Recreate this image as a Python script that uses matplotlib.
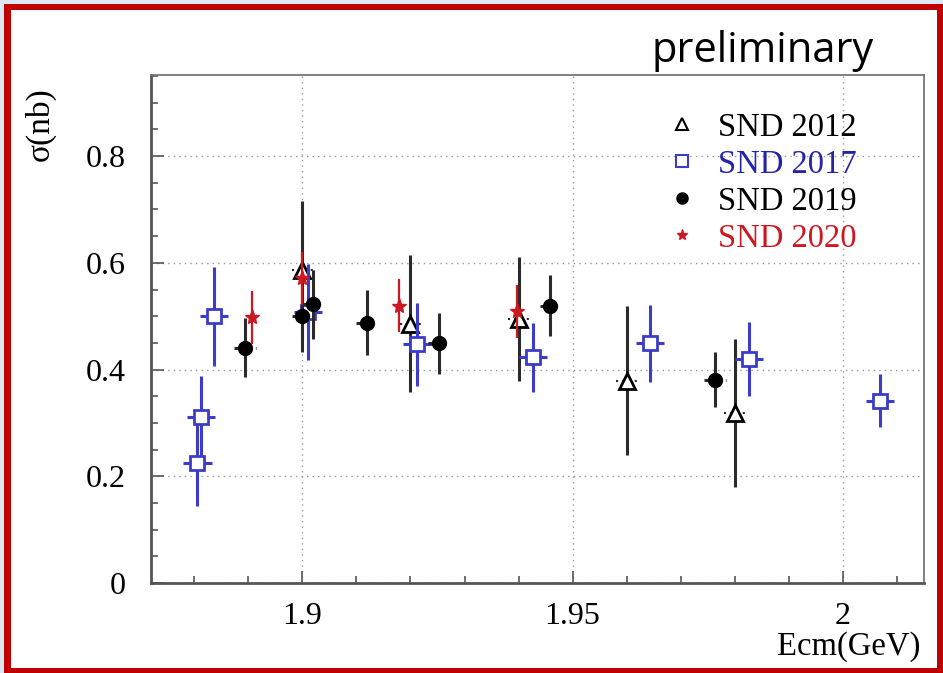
import matplotlib
matplotlib.use("Agg")
import matplotlib.pyplot as plt
from matplotlib.patches import Rectangle
from matplotlib.lines import Line2D
from matplotlib.ticker import MultipleLocator, FixedLocator, FuncFormatter

# cross sections (nb) vs c.m. energy (GeV)
e_2012 = [1.900, 1.920, 1.940, 1.960, 1.980]
xs_2012 = [0.586, 0.486, 0.494, 0.379, 0.319]
err_2012 = [0.130, 0.128, 0.116, 0.140, 0.139]

e_2017 = [1.8806, 1.8813, 1.8837, 1.9010, 1.9213, 1.9426, 1.9643, 1.9826, 2.0069]
xs_2017 = [0.225, 0.312, 0.500, 0.507, 0.447, 0.423, 0.449, 0.420, 0.342]
err_2017 = [0.080, 0.075, 0.093, 0.090, 0.077, 0.065, 0.072, 0.070, 0.049]

e_2019 = [1.8894, 1.9000, 1.9019, 1.9119, 1.9252, 1.9459, 1.9763]
xs_2019 = [0.441, 0.501, 0.522, 0.488, 0.449, 0.520, 0.381]
err_2019 = [0.055, 0.068, 0.064, 0.061, 0.057, 0.057, 0.052]

e_2020 = [1.8907, 1.9000, 1.9178, 1.9398]
xs_2020 = [0.498, 0.571, 0.520, 0.509]
err_2020 = [0.050, 0.050, 0.050, 0.050]

labels = ["SND 2012", "SND 2017", "SND 2019", "SND 2020"]
x_ticks = [1.9, 1.95, 2.0]
y_ticks = [0, 0.2, 0.4, 0.6, 0.8]

BLUE = "#3c3cc8"
BLUE_TXT = "#2424a8"
RED = "#cc1820"
DARK = "#2a2a2a"
SERIF = "Liberation Serif"

W, H = 943, 673
fig = plt.figure(figsize=(W / 100, H / 100), dpi=100)
fig.patch.set_facecolor("#dce7f3")

# slide frame: red border around a white panel
fig.add_artist(Rectangle((4 / W, 0), 1 - 4 / W, 1 - 4 / H, transform=fig.transFigure,
                         facecolor="#c00000", edgecolor="none", zorder=0))
fig.add_artist(Rectangle((11 / W, 5 / H), (937 - 11) / W, (663 - 5) / H,
                         transform=fig.transFigure, facecolor="white",
                         edgecolor="none", zorder=0))

ax = fig.add_axes([151 / W, 1 - 583 / H, (924 - 151) / W, (583 - 75) / H])
ax.set_zorder(1)

tri = ax.errorbar(e_2012, xs_2012, yerr=err_2012, xerr=0.002, fmt="^", ms=12,
                  mfc="white", mec="black", mew=2, ecolor=DARK, elinewidth=2.2,
                  capsize=0, zorder=3)
ax.errorbar(e_2017, xs_2017, yerr=err_2017, xerr=0.0026, fmt="s", ms=10,
            mfc="white", mec=BLUE, mew=2, ecolor=BLUE, elinewidth=2.2,
            capsize=0, zorder=4)
dots = ax.errorbar(e_2019, xs_2019, yerr=err_2019, xerr=0.002, fmt="o", ms=10,
                   mfc="black", mec="black", ecolor=DARK, elinewidth=2.2,
                   capsize=0, zorder=5)
ax.errorbar(e_2020, xs_2020, yerr=err_2020, fmt="*", ms=11,
            mfc=RED, mec=RED, ecolor=RED, elinewidth=1.6,
            capsize=0, zorder=6)

# horizontal bin-width bars are drawn dashed for triangles and dots
tri[2][0].set_linestyle((0, (1, 2)))
tri[2][0].set_linewidth(1.5)
dots[2][0].set_linestyle((0, (2, 1.5)))

ax.set_xlim(1.872, 2.015)
ax.set_ylim(0, 0.952)

ax.xaxis.set_major_locator(FixedLocator(x_ticks))
ax.xaxis.set_minor_locator(MultipleLocator(0.01))
ax.yaxis.set_major_locator(FixedLocator(y_ticks))
ax.yaxis.set_minor_locator(MultipleLocator(0.05))
fmt = FuncFormatter(lambda v, p: "%g" % v)
ax.xaxis.set_major_formatter(fmt)
ax.yaxis.set_major_formatter(fmt)

ax.tick_params(which="both", direction="in", top=False, right=False,
               color="#555555", width=1.2)
ax.tick_params(which="major", length=9, labelsize=23)
ax.tick_params(which="minor", length=5)
ax.tick_params(axis="x", pad=14)
ax.tick_params(axis="y", pad=18)
for lab in ax.get_xticklabels() + ax.get_yticklabels():
    lab.set_fontfamily(SERIF)

ax.grid(True, which="major", linestyle=(0, (1, 3)), color="#999999", lw=1)
for side in ["left", "bottom"]:
    ax.spines[side].set_linewidth(2)
    ax.spines[side].set_color("#555555")
for side in ["top", "right"]:
    ax.spines[side].set_linewidth(1.3)
    ax.spines[side].set_color("#777777")

handles = [
    Line2D([], [], ls="none", marker="^", ms=9, mfc="white", mec="black", mew=1.5),
    Line2D([], [], ls="none", marker="s", ms=8, mfc="white", mec=BLUE, mew=1.5),
    Line2D([], [], ls="none", marker="o", ms=8, mfc="black", mec="black"),
    Line2D([], [], ls="none", marker="*", ms=8, mfc=RED, mec=RED),
]
leg = ax.legend(handles, labels, loc="upper left", frameon=False,
                bbox_to_anchor=(666 / W, 1 - 112 / H), bbox_transform=fig.transFigure,
                prop={"family": SERIF, "size": 23.5}, handlelength=1.0,
                handletextpad=0.6, labelspacing=0.2, borderpad=0, borderaxespad=0)
for txt, c in zip(leg.get_texts(), ["black", BLUE_TXT, "black", RED]):
    txt.set_color(c)

fig.text(40 / W, 1 - 124 / H, "σ(nb)", rotation=90, ha="center", va="center",
         fontsize=24, family=SERIF)
fig.text(920 / W, 1 - 655 / H, "Ecm(GeV)", ha="right", va="baseline",
         fontsize=23.5, family=SERIF)
fig.text(874 / W, 1 - 62 / H, "preliminary", ha="right", va="baseline",
         fontsize=30, family="Open Sans")

fig.savefig("out.png", dpi=100)
